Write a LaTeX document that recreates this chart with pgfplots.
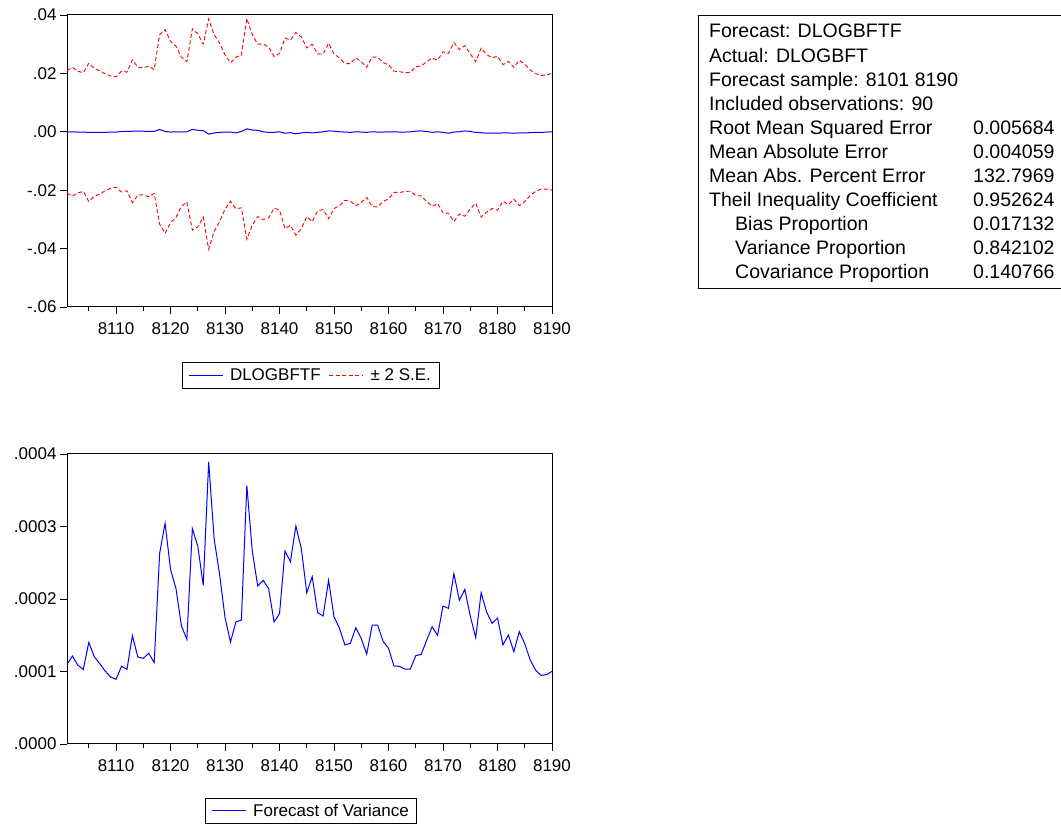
\documentclass[border=0pt]{standalone}
\usepackage{fontspec}
\setmainfont{Liberation Sans}
\usepackage{pgfplots}
\usepackage{pgfplotstable}
\pgfplotsset{compat=1.18}

\pgfplotstableread{
t f up lo v
8101 0.0000 0.02097 -0.02097 0.0001099
8102 0.0000 0.02204 -0.02204 0.0001214
8103 -0.0001 0.02073 -0.02093 0.0001085
8104 -0.0001 0.02020 -0.02040 0.0001030
8105 -0.0002 0.02348 -0.02388 0.0001402
8106 -0.0002 0.02175 -0.02215 0.0001205
8107 -0.0002 0.02085 -0.02125 0.0001108
8108 -0.0002 0.01987 -0.02027 0.0001007
8109 -0.0001 0.01912 -0.01932 0.0000924
8110 -0.0001 0.01879 -0.01899 0.0000892
8111 0.0001 0.02080 -0.02060 0.0001071
8112 0.0001 0.02040 -0.02020 0.0001030
8113 0.0002 0.02465 -0.02425 0.0001494
8114 0.0002 0.02211 -0.02171 0.0001200
8115 0.0002 0.02194 -0.02154 0.0001182
8116 0.0001 0.02247 -0.02227 0.0001251
8117 0.0001 0.02128 -0.02108 0.0001122
8118 0.0008 0.03323 -0.03163 0.0002630
8119 0.0001 0.03499 -0.03479 0.0003044
8120 -0.0001 0.03094 -0.03114 0.0002409
8121 0.0000 0.02928 -0.02928 0.0002143
8122 0.0000 0.02552 -0.02552 0.0001628
8123 0.0000 0.02403 -0.02403 0.0001444
8124 0.0008 0.03527 -0.03367 0.0002970
8125 0.0005 0.03355 -0.03255 0.0002731
8126 0.0004 0.02999 -0.02919 0.0002189
8127 -0.0008 0.03865 -0.04025 0.0003890
8128 -0.0004 0.03326 -0.03406 0.0002832
8129 -0.0002 0.03039 -0.03079 0.0002340
8130 -0.0001 0.02630 -0.02650 0.0001743
8131 -0.0001 0.02362 -0.02382 0.0001407
8132 -0.0004 0.02555 -0.02635 0.0001683
8133 0.0001 0.02625 -0.02605 0.0001710
8134 0.0010 0.03878 -0.03678 0.0003568
8135 0.0006 0.03323 -0.03203 0.0002662
8136 0.0005 0.03002 -0.02902 0.0002179
8137 0.0000 0.03005 -0.03005 0.0002257
8138 -0.0002 0.02908 -0.02948 0.0002143
8139 -0.0002 0.02575 -0.02615 0.0001683
8140 0.0000 0.02682 -0.02682 0.0001798
8141 -0.0005 0.03213 -0.03313 0.0002662
8142 -0.0003 0.03142 -0.03202 0.0002515
8143 -0.0007 0.03398 -0.03538 0.0003007
8144 -0.0004 0.03243 -0.03323 0.0002694
8145 -0.0002 0.02869 -0.02909 0.0002087
8146 -0.0004 0.02998 -0.03078 0.0002308
8147 -0.0002 0.02671 -0.02711 0.0001811
8148 0.0000 0.02658 -0.02658 0.0001766
8149 0.0003 0.03035 -0.02975 0.0002257
8150 0.0002 0.02670 -0.02630 0.0001756
8151 0.0000 0.02526 -0.02526 0.0001595
8152 -0.0001 0.02328 -0.02348 0.0001366
8153 -0.0002 0.02337 -0.02377 0.0001389
8154 0.0000 0.02534 -0.02534 0.0001605
8155 -0.0001 0.02401 -0.02421 0.0001453
8156 -0.0002 0.02208 -0.02248 0.0001241
8157 0.0000 0.02562 -0.02562 0.0001641
8158 -0.0001 0.02552 -0.02572 0.0001641
8159 -0.0001 0.02370 -0.02390 0.0001416
8160 0.0000 0.02298 -0.02298 0.0001320
8161 0.0000 0.02075 -0.02075 0.0001076
8162 -0.0001 0.02060 -0.02080 0.0001071
8163 -0.0001 0.02024 -0.02044 0.0001034
8164 0.0000 0.02034 -0.02034 0.0001034
8165 0.0002 0.02227 -0.02187 0.0001218
8166 0.0003 0.02254 -0.02194 0.0001237
8167 0.0001 0.02402 -0.02382 0.0001430
8168 -0.0002 0.02524 -0.02564 0.0001618
8169 0.0000 0.02449 -0.02449 0.0001499
8170 -0.0002 0.02739 -0.02779 0.0001903
8171 -0.0005 0.02686 -0.02786 0.0001871
8172 -0.0001 0.03055 -0.03075 0.0002349
8173 0.0000 0.02816 -0.02816 0.0001982
8174 0.0003 0.02951 -0.02891 0.0002133
8175 0.0001 0.02668 -0.02648 0.0001766
8176 -0.0002 0.02402 -0.02442 0.0001467
8177 -0.0003 0.02859 -0.02919 0.0002087
8178 -0.0005 0.02649 -0.02749 0.0001821
8179 -0.0005 0.02530 -0.02630 0.0001664
8180 -0.0005 0.02587 -0.02687 0.0001738
8181 -0.0004 0.02298 -0.02378 0.0001366
8182 -0.0004 0.02412 -0.02492 0.0001503
8183 -0.0005 0.02207 -0.02307 0.0001274
8184 -0.0004 0.02449 -0.02529 0.0001549
8185 -0.0004 0.02313 -0.02393 0.0001384
8186 -0.0003 0.02123 -0.02183 0.0001159
8187 -0.0002 0.01996 -0.02036 0.0001016
8188 -0.0002 0.01926 -0.01966 0.0000947
8189 -0.0001 0.01946 -0.01966 0.0000956
8190 0.0000 0.02002 -0.02002 0.0001002
}\fcst

\pgfplotsset{
  ev/.style={
    scale only axis, width=485pt, anchor=south west,
    xmin=8101, xmax=8190,
    xtick={8110,8120,...,8190},
    xticklabels={8110,8120,8130,8140,8150,8160,8170,8180,8190},
    minor xtick={8105,8115,...,8185},
    tick align=outside, xtick pos=bottom, ytick pos=left,
    major tick length=7pt, minor tick length=4pt,
    tick style={black, line width=0.8pt},
    axis line style={black, line width=1pt},
    ticklabel style={font=\fontsize{17}{20}\selectfont},
    xticklabel style={yshift=-5pt},
    scaled y ticks=false,
    legend columns=2,
    legend style={anchor=north, draw=black, line width=0.7pt,
      font=\fontsize{17}{20}\selectfont, inner xsep=6pt, inner ysep=4pt,
      /tikz/every odd column/.append style={column sep=5pt},
      /tikz/every even column/.append style={column sep=6pt}},
    legend image code/.code={\draw[#1] (0pt,0pt) -- (34pt,0pt);},
  }
}

\begin{document}
\begin{tikzpicture}
\useasboundingbox (0pt,0pt) rectangle (1061pt,829pt);

\begin{axis}[ev, at={(67pt,522pt)}, height=292pt,
  ymin=-0.06, ymax=0.04,
  ytick={-0.06,-0.04,-0.02,0,0.02,0.04},
  yticklabels={-.06,-.04,-.02,.00,.02,.04},
  legend style={at={(0.502,-0.19)}}]
\addplot[blue, line width=1pt] table[x=t,y=f]{\fcst};
\addlegendentry{DLOGBFTF}
\addplot[red, line width=0.9pt, dash pattern=on 4pt off 2.5pt] table[x=t,y=up]{\fcst};
\addlegendentry{± 2 S.E.}
\addplot[red, line width=0.9pt, dash pattern=on 4pt off 2.5pt, forget plot] table[x=t,y=lo]{\fcst};
\end{axis}

\begin{axis}[ev, at={(67pt,85pt)}, height=290pt,
  ymin=0, ymax=0.0004,
  ytick={0,0.0001,0.0002,0.0003,0.0004},
  yticklabels={.0000,.0001,.0002,.0003,.0004},
  legend style={at={(0.503,-0.185)}}]
\addplot[blue, line width=1pt] table[x=t,y=v]{\fcst};
\addlegendentry{Forecast of Variance}
\end{axis}

\draw[black, line width=0.9pt] (1061pt,814pt) -- (698pt,814pt) -- (698pt,541pt) -- (1061pt,541pt);
\begin{scope}[every node/.style={inner sep=0pt, anchor=base west, font=\fontsize{19.5}{22}\selectfont}]
\node at (709pt,791pt) {Forecast: DLOGBFTF};
\node at (709pt,766.9pt) {Actual: DLOGBFT};
\node at (709pt,742.8pt) {Forecast sample: 8101 8190};
\node at (709pt,718.7pt) {Included observations: 90};
\node at (709pt,694.6pt) {Root Mean Squared Error};
\node at (709pt,670.5pt) {Mean Absolute Error};
\node at (709pt,646.4pt) {Mean Abs. Percent Error};
\node at (709pt,622.3pt) {Theil Inequality Coefficient};
\node at (735pt,598.2pt) {Bias Proportion};
\node at (735pt,574.1pt) {Variance Proportion};
\node at (735pt,550pt) {Covariance Proportion};
\node at (973pt,694.6pt) {0.005684};
\node at (973pt,670.5pt) {0.004059};
\node at (973pt,646.4pt) {132.7969};
\node at (973pt,622.3pt) {0.952624};
\node at (973pt,598.2pt) {0.017132};
\node at (973pt,574.1pt) {0.842102};
\node at (973pt,550pt) {0.140766};
\end{scope}
\end{tikzpicture}
\end{document}
